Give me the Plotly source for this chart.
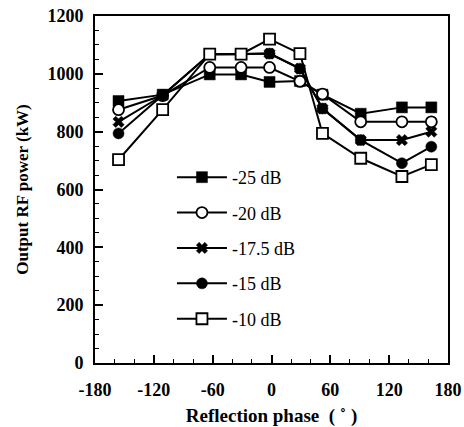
import plotly.graph_objects as go

phase = [-156, -111, -63, -31, -2, 29, 52, 91, 133, 163]
p_25 = [906, 928, 998, 998, 972, 975, 928, 862, 884, 884]
p_20 = [876, 925, 1022, 1022, 1022, 974, 930, 834, 834, 834]
p_175 = [834, 925, 1068, 1068, 1070, 1018, 880, 771, 771, 800]
p_15 = [794, 925, 1068, 1068, 1070, 1018, 880, 771, 691, 748]
p_10 = [703, 876, 1068, 1068, 1120, 1070, 794, 708, 645, 686]

x_ticks = [-180, -120, -60, 0, 60, 120, 180]
x_ticklabels = ["-180", "-120", "-60", "0", "60", "120", "180"]
y_ticks = [0, 200, 400, 600, 800, 1000, 1200]
y_ticklabels = ["0", "200", "400", "600", "800", "1000", "1200"]

series = [
    ("-25 dB", p_25, "square", "black"),
    ("-20 dB", p_20, "circle", "white"),
    ("-17.5 dB", p_175, "x", "black"),
    ("-15 dB", p_15, "circle", "black"),
    ("-10 dB", p_10, "square", "white"),
]

fig = go.Figure()
for i, (name, vals, sym, fill) in enumerate(series):
    fig.add_trace(go.Scatter(
        x=phase, y=vals, name=name, mode="lines+markers",
        legendgroup=str(i),
        line=dict(color="black", width=2),
        marker=dict(symbol=sym, size=11 if sym != "x" else 10, color=fill,
                    line=dict(color="black", width=1.8 if fill == "white" else 0.5)),
    ))

font_tick = dict(family="Liberation Serif", size=18, color="black")

fig.update_layout(
    width=464, height=427,
    margin=dict(l=95, r=16, t=16, b=64),
    plot_bgcolor="white", paper_bgcolor="white",
    showlegend=True,
    legend=dict(x=0.218, y=0.588, xanchor="left", yanchor="top",
                font=dict(family="Liberation Serif", size=18, color="black"),
                bgcolor="rgba(0,0,0,0)", tracegroupgap=9, itemwidth=50),
    xaxis=dict(range=[-180, 180], tickmode="array",
               tickvals=x_ticks, ticktext=["<b>%s</b>" % t for t in x_ticklabels],
               ticks="inside", ticklen=8, tickwidth=1.5, tickcolor="black",
               minor=dict(dtick=20, ticks="inside", ticklen=4, tickcolor="black", tickwidth=1),
               showline=True, linecolor="black", linewidth=2, mirror=True,
               showgrid=False, zeroline=False, automargin=False,
               ticklabeloverflow="allow",
               tickfont=font_tick, ticklabelstandoff=9,
               title=dict(text="<b>Reflection phase  ( ˚ )</b>",
                          font=dict(family="Liberation Serif", size=19, color="black"), standoff=10)),
    yaxis=dict(range=[0, 1200], tickmode="array",
               tickvals=y_ticks, ticktext=["<b>%s</b>" % t for t in y_ticklabels],
               ticks="inside", ticklen=8, tickwidth=1.5, tickcolor="black",
               minor=dict(dtick=50, ticks="inside", ticklen=4, tickcolor="black", tickwidth=1),
               showline=True, linecolor="black", linewidth=2, mirror=True,
               showgrid=False, zeroline=False, automargin=False,
               ticklabeloverflow="allow",
               tickfont=font_tick, ticklabelstandoff=6,
               title=dict(text="<b>Output RF power (kW)</b>",
                          font=dict(family="Liberation Serif", size=17, color="black"), standoff=14)),
)

# remove the page's default 8px body margin so the 464x427 figure fills the window
fig.write_html("out.html", config={"displayModeBar": False},
               post_script="document.body.style.margin='0';document.body.style.overflow='hidden';")
